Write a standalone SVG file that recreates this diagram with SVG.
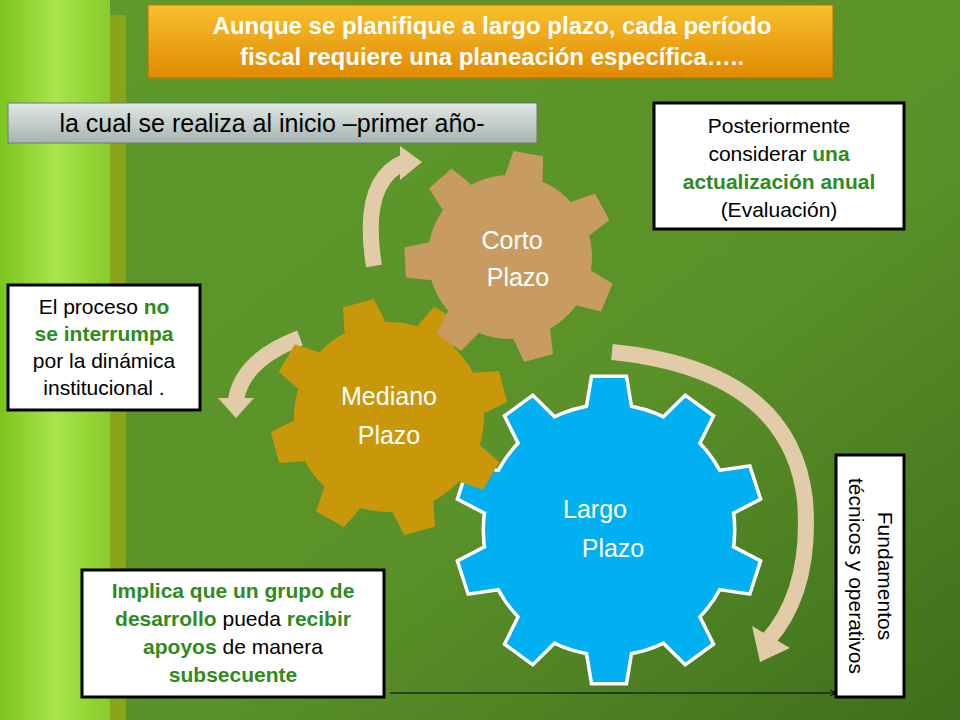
<svg xmlns="http://www.w3.org/2000/svg" xmlns:xlink="http://www.w3.org/1999/xlink" width="960" height="720" viewBox="0 0 960 720">
<defs>
<linearGradient id="bg" x1="0" y1="0" x2="1" y2="1"><stop offset="0" stop-color="#5e9a2c"/><stop offset="0.6" stop-color="#5a9128"/><stop offset="1" stop-color="#3f6e1c"/></linearGradient>
<linearGradient id="strip" x1="0" y1="0" x2="1" y2="0"><stop offset="0" stop-color="#7cc41e"/><stop offset="0.5" stop-color="#a8e64a"/><stop offset="1" stop-color="#86cc2a"/></linearGradient>
<linearGradient id="org" x1="0" y1="0" x2="0" y2="1"><stop offset="0" stop-color="#f8c030"/><stop offset="1" stop-color="#e08a00"/></linearGradient>
<linearGradient id="gry" x1="0" y1="0" x2="0" y2="1"><stop offset="0" stop-color="#e0e8e4"/><stop offset="1" stop-color="#a8b4b0"/></linearGradient>
<path id="tb" d="M-21,-122 L-16,-152 L16,-152 L21,-122 Z"/>
<path id="tm" d="M-21,-93 L-16,-118 L16,-118 L21,-93 Z"/>
<path id="tc" d="M-19,-80 L-15,-105 L15,-105 L19,-80 Z"/>
</defs>
<style>
.t{font-family:"Liberation Sans",Arial,sans-serif;fill:#000;font-size:21px;text-anchor:middle}
.g{fill:#2e8b1e;font-weight:bold}
.box{fill:#fff;stroke:#000;stroke-width:3}
.gl{font-family:"Liberation Sans",Arial,sans-serif;fill:#fff;font-size:25px;text-anchor:middle}
.tt{font-size:24px;font-weight:bold}
.sb{font-size:25px}
.arc{fill:none;stroke:#e2cba8;stroke-width:16}
.ah{fill:#e2cba8}
.ol{stroke:#fff;stroke-width:7}
</style>
<rect width="960" height="720" fill="url(#bg)"/>
<rect x="0" y="0" width="110" height="720" fill="url(#strip)"/>
<rect x="110" y="15" width="16" height="705" fill="#8aa41c"/>

<g id="title"><rect x="148" y="5" width="685" height="73" fill="url(#org)" stroke="#c07000"/>
<text class="gl tt" x="492" y="34">Aunque se planifique a largo plazo, cada período</text>
<text class="gl tt" x="492" y="65">fiscal requiere una planeación específica…..</text></g>
<g id="sub"><rect x="8" y="103" width="529" height="40" fill="url(#gry)" stroke="#6a7a74"/>
<text class="t sb" x="272" y="132">la cual se realiza al inicio –primer año-</text></g>

<g id="connectors">
<path class="arc" d="M374,266 Q360,180 405,162"/>
<polygon class="ah" points="400,146 422,162 400,180"/>
<path class="arc" d="M300,338 Q242,360 236,400"/>
<polygon class="ah" points="218,398 236,418 254,398"/>
<path class="arc" d="M612,352 Q790,370 805,500 Q812,590 768,640"/>
<polygon class="ah" points="752,626 760,662 790,648"/>
<line x1="390" y1="693" x2="836" y2="693" stroke="#000" stroke-width="1"/>
<polyline points="830,690 836,693 830,696" fill="none" stroke="#000"/>
</g>

<g id="largo" transform="translate(609,530)">
<g class="ol" fill="#fff"><circle r="124"/><use href="#tb"/><use href="#tb" transform="rotate(36)"/><use href="#tb" transform="rotate(72)"/><use href="#tb" transform="rotate(108)"/><use href="#tb" transform="rotate(144)"/><use href="#tb" transform="rotate(180)"/><use href="#tb" transform="rotate(216)"/><use href="#tb" transform="rotate(252)"/><use href="#tb" transform="rotate(288)"/><use href="#tb" transform="rotate(324)"/></g>
<g fill="#00b0f0"><circle r="124"/><use href="#tb"/><use href="#tb" transform="rotate(36)"/><use href="#tb" transform="rotate(72)"/><use href="#tb" transform="rotate(108)"/><use href="#tb" transform="rotate(144)"/><use href="#tb" transform="rotate(180)"/><use href="#tb" transform="rotate(216)"/><use href="#tb" transform="rotate(252)"/><use href="#tb" transform="rotate(288)"/><use href="#tb" transform="rotate(324)"/></g>
<text class="gl" x="-14" y="-12">Largo</text><text class="gl" x="4" y="27">Plazo</text>
</g>
<g id="mediano" transform="translate(389,417) rotate(-15)">
<g fill="#c9980a"><circle r="95"/><use href="#tm"/><use href="#tm" transform="rotate(45)"/><use href="#tm" transform="rotate(90)"/><use href="#tm" transform="rotate(135)"/><use href="#tm" transform="rotate(180)"/><use href="#tm" transform="rotate(225)"/><use href="#tm" transform="rotate(270)"/><use href="#tm" transform="rotate(315)"/></g>
<text class="gl" x="0" y="-12" transform="rotate(15)">Mediano</text><text class="gl" x="0" y="27" transform="rotate(15)">Plazo</text>
</g>
<g id="corto" transform="translate(510,257) rotate(10)">
<g fill="#c89c60"><circle r="82"/><use href="#tc"/><use href="#tc" transform="rotate(51.4)"/><use href="#tc" transform="rotate(102.8)"/><use href="#tc" transform="rotate(154.2)"/><use href="#tc" transform="rotate(205.6)"/><use href="#tc" transform="rotate(257)"/><use href="#tc" transform="rotate(308.4)"/></g>
<text class="gl" x="2" y="-8" transform="rotate(-10)">Corto</text><text class="gl" x="8" y="29" transform="rotate(-10)">Plazo</text>
</g>

<g id="n1"><rect class="box" x="654" y="103" width="250" height="126"/>
<text class="t" x="779" y="133">Posteriormente</text>
<text class="t" x="779" y="161">considerar <tspan class="g">una</tspan></text>
<text class="t g" x="779" y="189">actualización anual</text>
<text class="t" x="779" y="217">(Evaluación)</text></g>
<g id="n2"><rect class="box" x="8" y="285" width="192" height="125"/>
<text class="t" x="104" y="314">El proceso <tspan class="g">no</tspan></text>
<text class="t g" x="104" y="341">se interrumpa</text>
<text class="t" x="104" y="368">por la dinámica</text>
<text class="t" x="104" y="395">institucional .</text></g>
<g id="n3"><rect class="box" x="82" y="570" width="302" height="127"/>
<text class="t g" x="233" y="598">Implica que un grupo de</text>
<text class="t" x="233" y="626"><tspan class="g">desarrollo</tspan> pueda <tspan class="g">recibir</tspan></text>
<text class="t" x="233" y="654"><tspan class="g">apoyos</tspan> de manera</text>
<text class="t g" x="233" y="682">subsecuente</text></g>
<g id="n4"><rect class="box" x="836" y="455" width="68" height="242"/>
<text class="t" transform="translate(878,576) rotate(90)" x="0" y="0">Fundamentos</text>
<text class="t" transform="translate(849,576) rotate(90)" x="0" y="0">técnicos y operativos</text></g>
</svg>
